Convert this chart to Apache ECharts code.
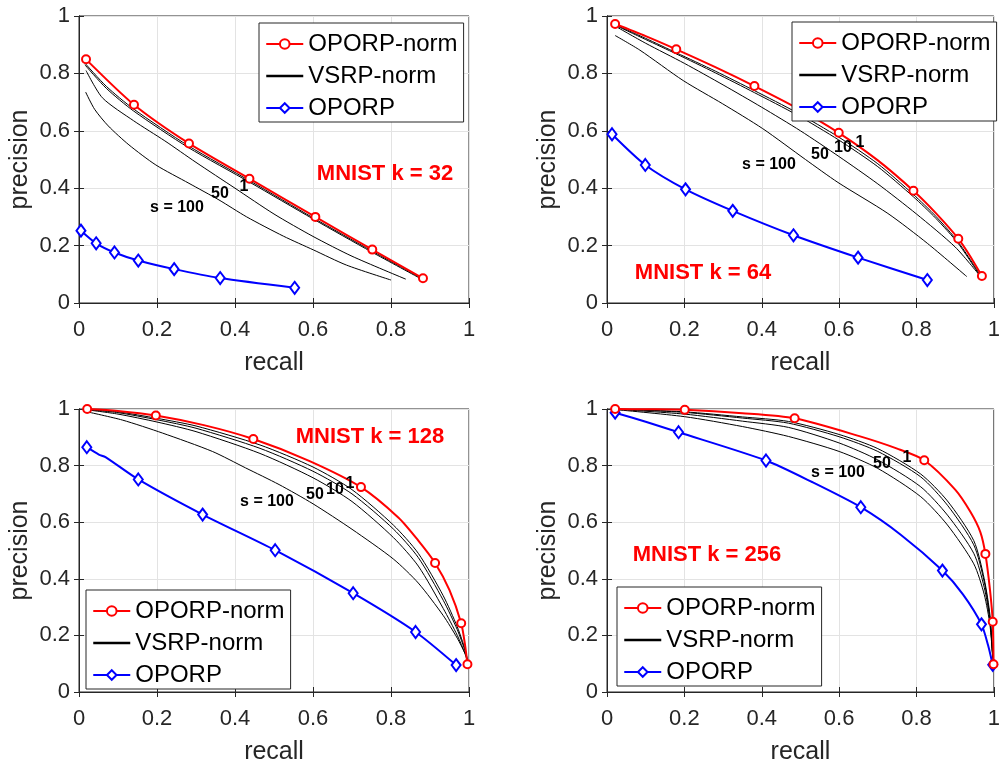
<!DOCTYPE html>
<html><head><meta charset="utf-8">
<script src="https://cdn.jsdelivr.net/npm/echarts@6/dist/echarts.min.js"></script>
<style>html,body{margin:0;padding:0;background:#fff}#c{width:1003px;height:766px}</style>
</head><body><div id="c"></div>
<script>
// ---------------- DATA (recall, precision) ----------------
const tickLabels = ['0', '0.2', '0.4', '0.6', '0.8', '1'];
const legendNames = ['OPORP-norm', 'VSRP-norm', 'OPORP'];
const panelTitles = ['MNIST k = 32', 'MNIST k = 64', 'MNIST k = 128', 'MNIST k = 256'];
const sValues = [100, 50, 10, 1];

// k = 32
const k32_oporpNorm = [[0.018,0.849],[0.141,0.691],[0.282,0.556],[0.437,0.433],[0.606,0.300],[0.752,0.186],[0.882,0.086]];
const k32_oporpNormCurve = [];
const k32_oporp = [[0.005,0.252],[0.044,0.208],[0.091,0.176],[0.152,0.148],[0.244,0.118],[0.362,0.087],[0.553,0.053]];
const k32_oporpCurve = [];
const k32_vsrp_s1 = [[0.015,0.836],[0.07,0.755],[0.14,0.676],[0.28,0.548],[0.44,0.424],[0.6,0.297],[0.75,0.182],[0.88,0.085]];
const k32_vsrp_s10 = [[0.015,0.830],[0.07,0.748],[0.14,0.669],[0.28,0.542],[0.44,0.419],[0.6,0.293],[0.75,0.178],[0.876,0.085]];
const k32_vsrp_s50 = [[0.018,0.810],[0.06,0.715],[0.14,0.635],[0.22,0.565],[0.3,0.490],[0.4,0.400],[0.5,0.310],[0.6,0.232],[0.7,0.163],[0.838,0.083]];
const k32_vsrp_s100 = [[0.017,0.735],[0.04,0.675],[0.075,0.617],[0.128,0.551],[0.197,0.481],[0.282,0.417],[0.359,0.359],[0.43,0.300],[0.524,0.233],[0.601,0.185],[0.686,0.132],[0.8,0.080]];

// k = 64
const k64_oporpNorm = [[0.021,0.972],[0.179,0.884],[0.381,0.756],[0.599,0.593],[0.792,0.391],[0.908,0.224],[0.969,0.094]];
const k64_oporpNormCurve = [[0.1,0.930],[0.28,0.822],[0.49,0.680],[0.70,0.497],[0.85,0.313],[0.94,0.160]];
const k64_oporp = [[0.013,0.588],[0.099,0.481],[0.203,0.396],[0.325,0.321],[0.482,0.236],[0.649,0.158],[0.828,0.080]];
const k64_oporpCurve = [];
const k64_vsrp_s1 = [[0.021,0.970],[0.1,0.922],[0.179,0.872],[0.28,0.808],[0.381,0.740],[0.49,0.664],[0.599,0.578],[0.7,0.485],[0.792,0.378],[0.85,0.302],[0.908,0.212],[0.966,0.095]];
const k64_vsrp_s10 = [[0.021,0.968],[0.1,0.918],[0.179,0.868],[0.28,0.802],[0.381,0.733],[0.49,0.656],[0.599,0.568],[0.7,0.475],[0.792,0.370],[0.85,0.295],[0.908,0.207],[0.964,0.095]];
const k64_vsrp_s50 = [[0.021,0.965],[0.1,0.905],[0.2,0.835],[0.3,0.760],[0.4,0.682],[0.5,0.600],[0.6,0.510],[0.7,0.415],[0.8,0.310],[0.9,0.195],[0.962,0.098]];
const k64_vsrp_s100 = [[0.021,0.932],[0.085,0.881],[0.197,0.775],[0.299,0.694],[0.402,0.608],[0.513,0.500],[0.597,0.420],[0.726,0.312],[0.828,0.208],[0.93,0.092]];

// k = 128
const k128_oporpNorm = [[0.021,1.0],[0.197,0.977],[0.447,0.894],[0.723,0.724],[0.913,0.456],[0.980,0.243],[0.996,0.098]];
const k128_oporpNormCurve = [[0.1,0.993],[0.32,0.943],[0.59,0.817],[0.82,0.615],[0.87,0.535],[0.95,0.360],[0.99,0.165]];
const k128_oporp = [[0.020,0.865],[0.152,0.751],[0.317,0.627],[0.503,0.501],[0.703,0.349],[0.863,0.212],[0.967,0.095]];
const k128_oporpCurve = [[0.051,0.839],[0.068,0.830]];
const k128_vsrp_s1 = [[0.021,0.999],[0.1,0.990],[0.2,0.967],[0.3,0.940],[0.464,0.873],[0.6,0.795],[0.7,0.715],[0.806,0.590],[0.87,0.490],[0.934,0.340],[0.97,0.230],[0.99,0.150],[0.998,0.100]];
const k128_vsrp_s10 = [[0.021,0.998],[0.1,0.987],[0.2,0.962],[0.3,0.932],[0.464,0.861],[0.6,0.780],[0.7,0.700],[0.806,0.576],[0.87,0.475],[0.934,0.324],[0.97,0.220],[0.99,0.145],[0.998,0.100]];
const k128_vsrp_s50 = [[0.021,0.997],[0.1,0.982],[0.2,0.954],[0.3,0.920],[0.464,0.843],[0.6,0.757],[0.7,0.673],[0.806,0.546],[0.87,0.445],[0.934,0.295],[0.97,0.200],[0.99,0.135],[0.998,0.100]];
const k128_vsrp_s100 = [[0.021,0.990],[0.111,0.961],[0.214,0.915],[0.342,0.850],[0.427,0.792],[0.513,0.733],[0.6,0.665],[0.7,0.575],[0.806,0.470],[0.87,0.385],[0.934,0.270],[0.97,0.190],[0.99,0.135],[0.998,0.100]];

// k = 256
const k256_oporpNorm = [[0.021,1.0],[0.201,0.997],[0.485,0.967],[0.820,0.819],[0.978,0.488],[0.997,0.248],[0.999,0.098]];
const k256_oporpNormCurve = [[0.1,0.999],[0.35,0.985],[0.65,0.905],[0.75,0.860],[0.9,0.715],[0.94,0.635],[0.965,0.565],[0.99,0.360]];
const k256_oporp = [[0.021,0.987],[0.185,0.918],[0.411,0.818],[0.656,0.653],[0.867,0.429],[0.968,0.239],[0.997,0.096]];
const k256_oporpCurve = [[0.1,0.955],[0.53,0.742],[0.76,0.555],[0.92,0.345],[0.985,0.165]];
const k256_vsrp_s1 = [[0.021,1.0],[0.2,0.990],[0.35,0.972],[0.469,0.956],[0.6,0.910],[0.7,0.860],[0.811,0.770],[0.88,0.675],[0.948,0.535],[0.975,0.400],[0.99,0.270],[0.998,0.100]];
const k256_vsrp_s10 = [[0.021,1.0],[0.2,0.988],[0.35,0.968],[0.469,0.950],[0.6,0.902],[0.7,0.850],[0.811,0.760],[0.88,0.660],[0.948,0.520],[0.975,0.390],[0.99,0.260],[0.998,0.100]];
const k256_vsrp_s50 = [[0.021,0.999],[0.2,0.982],[0.35,0.957],[0.469,0.935],[0.6,0.880],[0.7,0.820],[0.811,0.725],[0.88,0.625],[0.948,0.490],[0.975,0.370],[0.99,0.250],[0.998,0.100]];
const k256_vsrp_s100 = [[0.021,0.998],[0.2,0.973],[0.35,0.938],[0.469,0.903],[0.6,0.850],[0.7,0.790],[0.811,0.690],[0.88,0.590],[0.948,0.453],[0.975,0.345],[0.99,0.235],[0.998,0.100]];

// ---------------- LAYOUT ----------------
const FONT = '"Liberation Sans", Arial, Helvetica, sans-serif';
const AX = '#262626';
const panels = [
  { grid: {left: 79, top: 16, width: 390, height: 287}, legend: {left: 259, top: 23},
    title: [385, 174], sLab: [['s = 100', 177, 207.5], ['50', 220, 193.5], ['1', 244, 187]],
    red: k32_oporpNorm, redCurve: k32_oporpNormCurve, blue: k32_oporp, blueCurve: k32_oporpCurve,
    vsrp: [k32_vsrp_s100, k32_vsrp_s50, k32_vsrp_s10, k32_vsrp_s1] },
  { grid: {left: 607, top: 16, width: 390, height: 287}, legend: {left: 792, top: 22},
    title: [703, 273], sLab: [['s = 100', 769, 165], ['50', 820, 155], ['10', 843, 148], ['1', 860, 143]],
    red: k64_oporpNorm, redCurve: k64_oporpNormCurve, blue: k64_oporp, blueCurve: k64_oporpCurve,
    vsrp: [k64_vsrp_s100, k64_vsrp_s50, k64_vsrp_s10, k64_vsrp_s1] },
  { grid: {left: 79, top: 409, width: 390, height: 285}, legend: {left: 86, top: 590},
    title: [370, 437], sLab: [['s = 100', 267, 502], ['50', 315, 495], ['10', 335, 490], ['1', 350, 484]],
    red: k128_oporpNorm, redCurve: k128_oporpNormCurve, blue: k128_oporp, blueCurve: k128_oporpCurve,
    vsrp: [k128_vsrp_s100, k128_vsrp_s50, k128_vsrp_s10, k128_vsrp_s1] },
  { grid: {left: 607, top: 409, width: 390, height: 285}, legend: {left: 617, top: 587},
    title: [707, 555], sLab: [['s = 100', 838, 473], ['50', 882, 464], ['1', 907, 458]],
    red: k256_oporpNorm, redCurve: k256_oporpNormCurve, blue: k256_oporp, blueCurve: k256_oporpCurve,
    vsrp: [k256_vsrp_s100, k256_vsrp_s50, k256_vsrp_s10, k256_vsrp_s1] }
];

function merge(marks, extra) {
  const items = marks.map(p => ({value: p})).concat(extra.map(p => ({value: p, symbol: 'none'})));
  items.sort((a, b) => a.value[0] - b.value[0]);
  return items;
}
const fmt = v => tickLabels[Math.round(v / 0.2)];
const SMOOTH = 0.25;

const grid = [], xAxis = [], yAxis = [], series = [], legend = [], graphic = [];
panels.forEach((p, i) => {
  grid.push(Object.assign({show: true, borderColor: AX, borderWidth: 1, backgroundColor: '#fff'}, p.grid));
  const common = {gridIndex: i, type: 'value', min: 0, max: 1, interval: 0.2,
    axisLine: {show: true, lineStyle: {color: AX, width: 1}},
    axisTick: {show: true, inside: true, length: 5, lineStyle: {color: AX}}};
  xAxis.push(Object.assign({}, common, {position: 'bottom',
    axisLabel: {fontSize: 22, color: AX, margin: 16, fontFamily: FONT, formatter: fmt},
    splitLine: {show: true, lineStyle: {color: '#e3e3e3', width: 1}},
    name: 'recall', nameLocation: 'middle', nameGap: 48,
    nameTextStyle: {fontSize: 25, color: AX, fontFamily: FONT}}));
  xAxis.push(Object.assign({}, common, {position: 'top', axisLabel: {show: false}, splitLine: {show: false}}));
  yAxis.push(Object.assign({}, common, {position: 'left',
    axisLabel: {fontSize: 22, color: AX, margin: 9, fontFamily: FONT, formatter: fmt},
    splitLine: {show: true, lineStyle: {color: '#e3e3e3', width: 1}},
    name: 'precision', nameLocation: 'middle', nameGap: 46,
    nameTextStyle: {fontSize: 25, color: AX, fontFamily: FONT}}));
  yAxis.push(Object.assign({}, common, {position: 'right', axisLabel: {show: false}, splitLine: {show: false}}));

  p.vsrp.forEach(d => series.push({type: 'line', name: 'VSRP-norm', xAxisIndex: 2 * i, yAxisIndex: 2 * i,
    data: d, symbol: 'none', smooth: SMOOTH,
    lineStyle: {color: '#000', width: 1}, itemStyle: {color: '#000', opacity: 0}, z: 2, silent: true}));
  series.push({type: 'line', name: 'OPORP', xAxisIndex: 2 * i, yAxisIndex: 2 * i,
    data: merge(p.blue, p.blueCurve), symbol: 'emptyDiamond', symbolSize: [9, 12], smooth: SMOOTH,
    lineStyle: {color: '#0000ff', width: 2}, itemStyle: {color: '#0000ff', borderWidth: 1.6}, z: 3, silent: true});
  series.push({type: 'line', name: 'OPORP-norm', xAxisIndex: 2 * i, yAxisIndex: 2 * i,
    data: merge(p.red, p.redCurve), symbol: 'emptyCircle', symbolSize: 8, smooth: SMOOTH,
    lineStyle: {color: '#ff0000', width: 2}, itemStyle: {color: '#ff0000', borderWidth: 1.6}, z: 4, silent: true});

  legend.push({data: [{name: legendNames[0]}, {name: legendNames[1], itemStyle: {opacity: 0}, lineStyle: {width: 2.5}}, {name: legendNames[2]}],
    orient: 'vertical', left: p.legend.left, top: p.legend.top,
    itemWidth: 37, itemHeight: 12, itemGap: 8, padding: [9, 6, 2, 6],
    backgroundColor: '#fff', borderColor: AX, borderWidth: 1, borderRadius: 0,
    selectedMode: false, textStyle: {fontSize: 24, color: '#000', fontFamily: FONT}, z: 10});

  graphic.push({type: 'text', z: 20, style: {text: panelTitles[i], x: p.title[0], y: p.title[1],
    align: 'center', verticalAlign: 'middle', fill: '#ff0000', font: 'bold 22px ' + FONT}});
  p.sLab.forEach(s => graphic.push({type: 'text', z: 20, style: {text: s[0], x: s[1], y: s[2],
    align: 'center', verticalAlign: 'middle', fill: '#000', font: 'bold 16px ' + FONT}}));
});

const chart = echarts.init(document.getElementById('c'), null, {renderer: 'canvas'});
chart.setOption({animation: false, backgroundColor: '#fff', textStyle: {fontFamily: FONT},
  grid, xAxis, yAxis, series, legend, graphic});
</script></body></html>
